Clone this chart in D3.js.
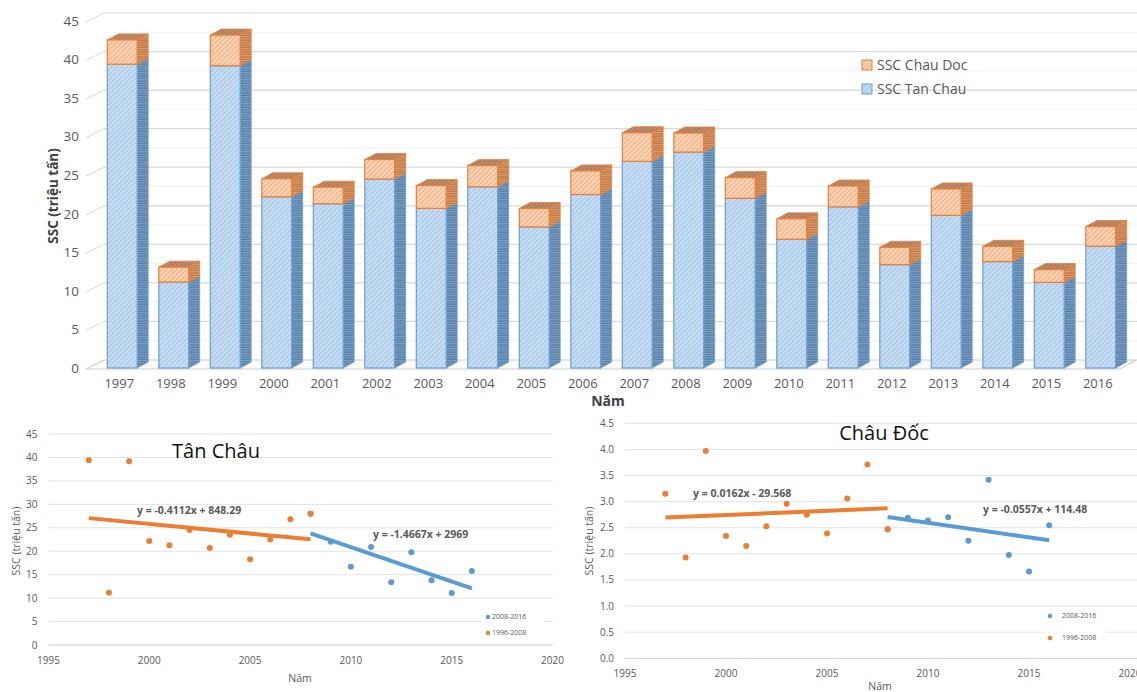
<!DOCTYPE html>
<html>
<head>
<meta charset="utf-8">
<script src="https://cdn.jsdelivr.net/npm/d3@7"></script>
<style>
  html, body { margin: 0; padding: 0; background: #fff; }
  svg { display: block; font-family: "Open Sans", "Liberation Sans", sans-serif; }
</style>
</head>
<body>
<svg id="chart" width="1137" height="692"></svg>
<script>
// ---- data ----
const years = [1997, 1998, 1999, 2000, 2001, 2002, 2003, 2004, 2005, 2006,
               2007, 2008, 2009, 2010, 2011, 2012, 2013, 2014, 2015, 2016];
// SSC (million tonnes) at Tan Chau
const tanChau = [39.4, 11.15, 39.2, 22.2, 21.3, 24.5, 20.7, 23.5, 18.3, 22.5,
                 26.8, 28.0, 22.0, 16.7, 20.9, 13.4, 19.8, 13.8, 11.1, 15.8];
// SSC (million tonnes) at Chau Doc
const chauDoc = [3.15, 1.93, 3.97, 2.34, 2.15, 2.53, 2.96, 2.75, 2.39, 3.06,
                 3.71, 2.47, 2.69, 2.64, 2.70, 2.25, 3.42, 1.98, 1.66, 2.55];

const seriesNames = ["SSC Chau Doc", "SSC Tan Chau"];
const periodNames = ["2008-2016", "1996-2008"];
const topTicks = [0, 5, 10, 15, 20, 25, 30, 35, 40, 45];
const tcTicks = [0, 5, 10, 15, 20, 25, 30, 35, 40, 45];
const cdTicks = [0, 0.5, 1.0, 1.5, 2.0, 2.5, 3.0, 3.5, 4.0, 4.5];
const yearTicks = [1995, 2000, 2005, 2010, 2015, 2020];

// trend equations as printed on the charts: [slope, intercept]
const tcEarlyTrend = [-0.4112, 848.29];
const tcLateTrend = [-1.4667, 2969];
const cdEarlyTrend = [0.0162, -29.568];
const cdLateTrend = [-0.0557, 114.48];

const ORANGE = "#ed7d31", BLUE = "#5b9bd5";
const svg = d3.select("#chart");

// ---- hatch patterns for the 3D columns ----
const defs = svg.append("defs");
function hatch(id, bg, fg, size, angle, sw) {
  const p = defs.append("pattern").attr("id", id)
    .attr("patternUnits", "userSpaceOnUse").attr("width", size).attr("height", size)
    .attr("patternTransform", `rotate(${angle})`);
  p.append("rect").attr("width", size).attr("height", size).attr("fill", bg);
  p.append("line").attr("x1", 0.5).attr("y1", 0).attr("x2", 0.5).attr("y2", size)
    .attr("stroke", fg).attr("stroke-width", sw);
}
hatch("blueFront", "#c6dcf2", "#a3c5e7", 3.5, 45, 1);
hatch("blueSide", "#5a82a9", "#7ea2c4", 2.4, 90, 1);
hatch("orangeFront", "#fad4b8", "#f1aa7a", 3.5, 45, 1);
hatch("orangeSide", "#c27c49", "#dc9b6e", 2.4, 90, 1);
hatch("orangeTop", "#bb8c6c", "#a8775a", 3, 45, 1);

// ================= top: stacked 3D columns =================
const yTop = d3.scaleLinear().domain([0, 45]).range([368, 21]);
const xTop = d3.scaleBand().domain(years).range([96.5, 1126.5])
  .paddingInner(0.42).paddingOuter(0.21);
const dx = 11, dy = -6;          // column depth
const wallDx = 18, wallDy = -9;  // back wall offset

const colChart = svg.append("g");

// side wall strokes and back-wall gridlines
topTicks.forEach(v => {
  const y = yTop(v);
  colChart.append("line").attr("x1", 86).attr("y1", y + 1).attr("x2", 86 + wallDx).attr("y2", y + 1 + wallDy)
    .attr("stroke", "#d9d9d9").attr("stroke-width", 1);
  if (v > 0) {
    colChart.append("line").attr("x1", 86 + wallDx).attr("x2", 1137)
      .attr("y1", y + 1 + wallDy).attr("y2", y + 1 + wallDy)
      .attr("stroke", "#d9d9d9").attr("stroke-width", 1.2);
  }
  if (v < 45) {
    const ym = yTop(v + 2.5) + 1 + wallDy;
    colChart.append("line").attr("x1", 86 + wallDx).attr("x2", 1137).attr("y1", ym).attr("y2", ym)
      .attr("stroke", "#f1f1f1").attr("stroke-width", 1);
  }
});

// floor
colChart.append("path")
  .attr("d", `M86,${yTop(0) + 1} L1120,${yTop(0) + 1} L1136,${yTop(0) + 1 + wallDy} L${86 + wallDx},${yTop(0) + 1 + wallDy} Z`)
  .attr("fill", "#fbfbfb").attr("stroke", "#cfcfcf").attr("stroke-width", 1.2);

// columns
const stackRows = years.map((yr, i) => ({ year: yr, tc: tanChau[i], cd: chauDoc[i] }));
function segment(g, x0, w, v0, v1, front, side, stroke, withTop) {
  const y0 = yTop(v0), y1 = yTop(v1);
  g.append("path")
    .attr("d", `M${x0 + w},${y1} L${x0 + w + dx},${y1 + dy} L${x0 + w + dx},${y0 + dy} L${x0 + w},${y0} Z`)
    .attr("fill", `url(#${side})`).attr("stroke", stroke).attr("stroke-width", 0.8);
  if (withTop) {
    g.append("path")
      .attr("d", `M${x0},${y1} L${x0 + dx},${y1 + dy} L${x0 + w + dx},${y1 + dy} L${x0 + w},${y1} Z`)
      .attr("fill", "url(#orangeTop)").attr("stroke", stroke).attr("stroke-width", 0.8);
  }
  g.append("rect").attr("x", x0).attr("y", y1).attr("width", w).attr("height", y0 - y1)
    .attr("fill", `url(#${front})`).attr("stroke", stroke).attr("stroke-width", 1.2);
}
const bars = colChart.append("g");
stackRows.forEach(d => {
  const g = bars.append("g");
  const x0 = xTop(d.year), w = xTop.bandwidth();
  segment(g, x0, w, 0, d.tc, "blueFront", "blueSide", "#6a9fd4", false);
  segment(g, x0, w, d.tc, d.tc + d.cd, "orangeFront", "orangeSide", ORANGE, true);
});

// axis labels
colChart.append("g").selectAll("text").data(topTicks).join("text")
  .attr("x", 79).attr("y", d => yTop(d)).attr("dy", "0.35em").attr("text-anchor", "end")
  .attr("font-size", 13.5).attr("fill", "#595959").text(d => d);
colChart.append("g").selectAll("text").data(years).join("text")
  .attr("x", d => xTop(d) + xTop.bandwidth() / 2 - 3).attr("y", 388)
  .attr("text-anchor", "middle").attr("font-size", 13).attr("fill", "#595959").text(d => d);
colChart.append("text").attr("transform", "translate(53,196) rotate(-90)")
  .attr("text-anchor", "middle").attr("dy", "0.35em").attr("font-size", 13.5).attr("font-weight", "bold")
  .attr("fill", "#404040").text("SSC (triệu tấn)");
colChart.append("text").attr("x", 608).attr("y", 406).attr("text-anchor", "middle")
  .attr("font-size", 14).attr("font-weight", "bold").attr("fill", "#404040").text("Năm");

// legend
const legTop = colChart.append("g");
[["orangeFront", ORANGE], ["blueFront", "#6a9fd4"]].forEach(([pat, st], i) => {
  legTop.append("rect").attr("x", 862).attr("y", 60 + i * 24).attr("width", 10).attr("height", 10)
    .attr("fill", `url(#${pat})`).attr("stroke", st).attr("stroke-width", 1);
  legTop.append("text").attr("x", 877).attr("y", 65 + i * 24).attr("dy", "0.35em")
    .attr("font-size", 14).attr("fill", "#595959").text(seriesNames[i]);
});

// ================= bottom: trend scatter charts =================
function fitLine(trend, xs, ys) {
  // slope as printed, anchored at the centroid of the points
  const mx = d3.mean(xs), my = d3.mean(ys);
  const m = trend[0];
  return x => my + m * (x - mx);
}

function scatter(opt) {
  const g = svg.append("g");
  const x = d3.scaleLinear().domain([1995, 2020]).range(opt.xr);
  const y = d3.scaleLinear().domain([0, opt.ymax]).range(opt.yr);
  // gridlines
  g.append("g").selectAll("line").data(opt.ticks.slice(1)).join("line")
    .attr("x1", opt.xr[0]).attr("x2", opt.gridEnd).attr("y1", d => y(d)).attr("y2", d => y(d))
    .attr("stroke", "#e3e3e3").attr("stroke-width", 1);
  g.append("line").attr("x1", opt.xr[0]).attr("x2", opt.gridEnd).attr("y1", y(0)).attr("y2", y(0))
    .attr("stroke", "#cdcdcd").attr("stroke-width", 1);
  // tick labels
  g.append("g").selectAll("text").data(opt.ticks).join("text")
    .attr("x", opt.xr[0] - 11).attr("y", d => y(d)).attr("dy", "0.35em").attr("text-anchor", "end")
    .attr("font-size", 10).attr("fill", "#595959").text(opt.fmt);
  g.append("g").selectAll("text").data(yearTicks).join("text")
    .attr("x", d => x(d)).attr("y", y(0) + 15).attr("dy", "0.35em").attr("text-anchor", "middle")
    .attr("font-size", 10).attr("fill", "#595959").text(d => d);
  g.append("text").attr("transform", `translate(${opt.ytx},541) rotate(-90)`)
    .attr("text-anchor", "middle").attr("dy", "0.35em").attr("font-size", 10.5).attr("fill", "#595959")
    .text("SSC (triệu tấn)");
  g.append("text").attr("x", opt.namX).attr("y", opt.namY).attr("dy", "0.35em").attr("text-anchor", "middle")
    .attr("font-size", 10.5).attr("fill", "#595959").text("Năm");

  // legend box
  const lg = g.append("g");
  lg.append("rect").attr("x", opt.leg[0] - 6).attr("y", opt.leg[1] - 8).attr("width", 62)
    .attr("height", opt.legGap + 16).attr("fill", "#fff");
  [BLUE, ORANGE].forEach((c, i) => {
    lg.append("circle").attr("cx", opt.leg[0]).attr("cy", opt.leg[1] + i * opt.legGap).attr("r", 2.2).attr("fill", c);
    lg.append("text").attr("x", opt.leg[0] + opt.legText).attr("y", opt.leg[1] + i * opt.legGap).attr("dy", "0.35em")
      .attr("font-size", 7).attr("fill", "#595959").text(periodNames[i]);
  });

  const early = years.map((yr, i) => [yr, opt.vals[i]]).filter(d => d[0] <= 2008);
  const late = years.map((yr, i) => [yr, opt.vals[i]]).filter(d => d[0] >= 2008);

  // points
  g.append("g").selectAll("circle").data(late).join("circle")
    .attr("cx", d => x(d[0])).attr("cy", d => y(d[1])).attr("r", 3).attr("fill", BLUE);
  g.append("g").selectAll("circle").data(early).join("circle")
    .attr("cx", d => x(d[0])).attr("cy", d => y(d[1])).attr("r", 3).attr("fill", ORANGE);

  // trend lines
  [[early, opt.earlyTrend, ORANGE], [late, opt.lateTrend, BLUE]].forEach(([pts, tr, c]) => {
    const f = fitLine(tr, pts.map(d => d[0]), pts.map(d => d[1]));
    const x0 = d3.min(pts, d => d[0]), x1 = d3.max(pts, d => d[0]);
    g.append("line").attr("x1", x(x0)).attr("y1", y(f(x0))).attr("x2", x(x1)).attr("y2", y(f(x1)))
      .attr("stroke", c).attr("stroke-width", 4).attr("stroke-linecap", "butt");
  });

  // equations and title
  const eq = tr => {
    const b = tr[1];
    return `y = ${tr[0]}x ${b < 0 ? "-" : "+"} ${Math.abs(b)}`;
  };
  g.append("text").attr("x", opt.eq1[0]).attr("y", opt.eq1[1]).attr("dy", "0.35em")
    .attr("font-size", 10.5).attr("font-weight", "bold").attr("fill", "#595959").text(eq(opt.earlyTrend));
  g.append("text").attr("x", opt.eq2[0]).attr("y", opt.eq2[1]).attr("dy", "0.35em")
    .attr("font-size", 10.5).attr("font-weight", "bold").attr("fill", "#595959").text(eq(opt.lateTrend));
  g.append("text").attr("x", opt.title[0]).attr("y", opt.title[1]).attr("dy", "0.35em").attr("text-anchor", "middle")
    .attr("font-size", 20).attr("fill", "#111").text(opt.titleText);
}

scatter({
  xr: [48.5, 552.5], yr: [645, 434], ymax: 45, ticks: tcTicks, gridEnd: 553,
  fmt: d => d, vals: tanChau, earlyTrend: tcEarlyTrend, lateTrend: tcLateTrend,
  ytx: 16, namX: 300, namY: 678,
  leg: [488, 617], legGap: 16, legText: 4,
  eq1: [137, 510], eq2: [373, 534],
  title: [216, 451], titleText: "Tân Châu"
});
scatter({
  xr: [625, 1130], yr: [658.3, 423.3], ymax: 4.5, ticks: cdTicks, gridEnd: 1137,
  fmt: d => d.toFixed(1), vals: chauDoc, earlyTrend: cdEarlyTrend, lateTrend: cdLateTrend,
  ytx: 589, namX: 880, namY: 686,
  leg: [1050, 616], legGap: 22, legText: 12,
  eq1: [693, 493], eq2: [983, 509],
  title: [884, 433], titleText: "Châu Đốc"
});
</script>
</body>
</html>
